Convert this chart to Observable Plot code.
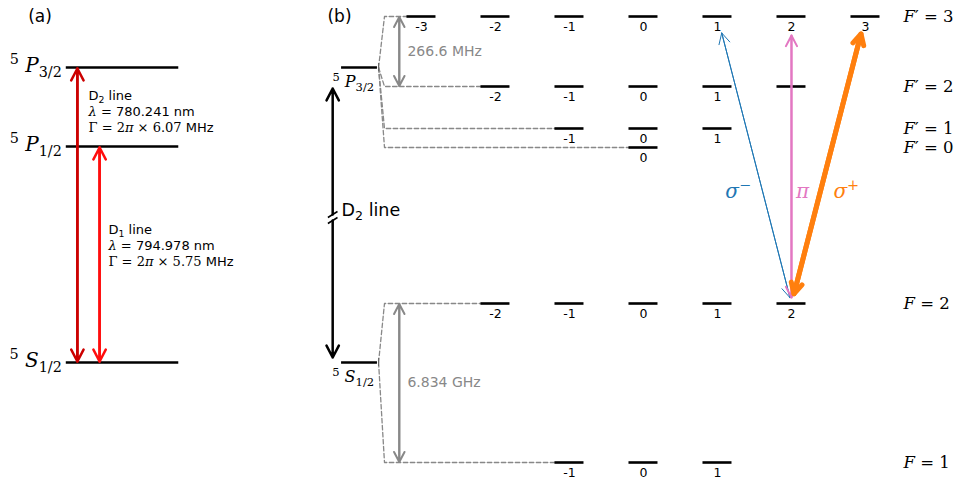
<!DOCTYPE html>
<html><head><meta charset="utf-8">
<script src="https://cdn.jsdelivr.net/npm/d3@7"></script>
<script src="https://cdn.jsdelivr.net/npm/@observablehq/plot@0.6"></script>
<style>body{margin:0;background:#fff} #chart svg{display:block}</style>
</head><body><div id="chart"></div>
<script>
// ---------------- data ----------------
// fine-structure levels (schematic energy units)
const fineNames = ["^{5}@{ P}_{3/2}", "^{5}@{ P}_{1/2}", "^{5}@{ S}_{1/2}"];
const fineEnergy = [41.4, 33.5, 11.9];
// hyperfine levels of the D2 line
const hfNames = ["@{F}′ = 3", "@{F}′ = 2", "@{F}′ = 1", "@{F}′ = 0", "@{F} = 2", "@{F} = 1"];
const hfF = [3, 2, 1, 0, 2, 1];
const hfParent = [0, 0, 0, 0, 2, 2];           // index into fine levels
const hfEnergy = [46.5, 39.5, 35.3, 33.4, 17.8, 1.9];
const unlabeledSublevels = [{level: 1, m: 2}];
// splittings
const splitLabels = ["266.6 MHz", "6.834 GHz"];
const splitPairs = [[0, 1], [4, 5]];
// D-line descriptions
const d2Text = ["D_{2} line", "@{λ} #{=} 780.241 nm", "#{Γ = 2}@{π}#{ × 6.07} MHz"];
const d1Text = ["D_{1} line", "@{λ} #{=} 794.978 nm", "#{Γ = 2}@{π}#{ × 5.75} MHz"];
// polarised transitions from F=2, m=2 to F'=3
const transNames = ["@{σ}^{−}", "@{π}", "@{σ}^{+}"];
const transMTo = [1, 2, 3];
const transColors = ["#1f77b4", "#e377c2", "#ff7f0e"];

// ---------------- layout ----------------
const SERIF = "DejaVu Serif";
const hw = 0.196;                // half width of a sublevel bar (x units)
const panelA = {x1: -7.80, x2: -6.28, labelX: -7.86, d2X: -7.65, d1X: -7.35, d2TextX: -7.50, d1TextX: -7.23, d2TextY: 38.6, d1TextY: 25.2, step: 1.6};
const panelB = {x1: -4.08, x2: -3.595, labelX: -3.64, capX: -3.58, fanX: -3.50, splitX: -3.30, splitTextX: -3.19, arrowX: -4.20, fLabelX: 3.514};
const transStyle = [
  {w: 1, head: 18, inLow: 6, inHigh: 17, lx: 1.28},
  {w: 2, head: 9, inLow: 6, inHigh: 19, lx: 2.15},
  {w: 5, head: 3.6, inLow: 10, inHigh: 18, lx: 2.74}
];

const sublevels = hfF.flatMap((F, i) => d3.range(-F, F + 1).map(m => ({level: i, m, E: hfEnergy[i]})));
const labeledSub = sublevels.filter(s => !unlabeledSublevels.some(u => u.level === s.level && u.m === s.m));
const fan = hfF.flatMap((F, i) => [
  {i, x: panelB.capX, E: fineEnergy[hfParent[i]]},
  {i, x: panelB.fanX, E: hfEnergy[i]},
  {i, x: -F - hw, E: hfEnergy[i]}
]);

function dbl(data, o) {
  const {insetStart = 0, insetEnd = 0, ...rest} = o;
  return [
    Plot.arrow(data, {...rest, insetStart, insetEnd}),
    Plot.arrow(data, {...rest, x1: o.x2, y1: o.y2, x2: o.x1, y2: o.y1, insetStart: insetEnd, insetEnd: insetStart})
  ];
}

const one = [0];
const marks = [
  // ---- panel (a) ----
  Plot.text(["(a)"], {x: -8.155, y: 46.5, text: d => d, fontSize: 17}),
  Plot.ruleY(fineNames, {y: (d, i) => fineEnergy[i], x1: panelA.x1, x2: panelA.x2, stroke: "black", strokeWidth: 2.6}),
  Plot.text(fineNames, {x: panelA.labelX, y: (d, i) => fineEnergy[i] + 0.15, text: d => d, textAnchor: "end", fontFamily: SERIF, fontSize: 20}),
  dbl(one, {x1: panelA.d2X, x2: panelA.d2X, y1: fineEnergy[2], y2: fineEnergy[0], stroke: "#cc0000", strokeWidth: 2.5, headLength: 8, headAngle: 55, insetStart: 1, insetEnd: 1}),
  dbl(one, {x1: panelA.d1X, x2: panelA.d1X, y1: fineEnergy[2], y2: fineEnergy[1], stroke: "#ff0d0d", strokeWidth: 2.5, headLength: 8, headAngle: 55, insetStart: 1, insetEnd: 1}),
  Plot.text(d2Text, {x: panelA.d2TextX, y: (d, i) => panelA.d2TextY - panelA.step * i, text: d => d, textAnchor: "start", fontSize: 13, lineHeight: 1}),
  Plot.text(d1Text, {x: panelA.d1TextX, y: (d, i) => panelA.d1TextY - panelA.step * i, text: d => d, textAnchor: "start", fontSize: 13, lineHeight: 1}),

  // ---- panel (b) ----
  Plot.text(["(b)"], {x: -4.108, y: 46.5, text: d => d, fontSize: 17}),
  Plot.line(fan, {x: "x", y: "E", z: "i", stroke: "#888", strokeWidth: 1.3, strokeDasharray: "4.5,2.5"}),
  Plot.ruleY([0, 2], {y: i => fineEnergy[i], x1: panelB.x1, x2: panelB.x2, stroke: "black", strokeWidth: 2.6}),
  Plot.ruleX([0, 2], {x: panelB.capX, y1: i => fineEnergy[i] - 0.4, y2: i => fineEnergy[i] + 0.4, stroke: "#666", strokeWidth: 1}),
  Plot.text([0, 2], {x: panelB.labelX, y: i => fineEnergy[i] - 1.45, text: i => fineNames[i], textAnchor: "end", fontFamily: SERIF, fontSize: 16}),
  // D2 arrow with break
  Plot.arrow(one, {x1: panelB.arrowX, x2: panelB.arrowX, y1: 26.7, y2: fineEnergy[0] - 2.1, stroke: "black", strokeWidth: 2.5, headLength: 8, headAngle: 55}),
  Plot.arrow(one, {x1: panelB.arrowX, x2: panelB.arrowX, y1: 26.1, y2: fineEnergy[2] + 0.5, stroke: "black", strokeWidth: 2.5, headLength: 8, headAngle: 55}),
  Plot.link([26.7, 26.1], {x1: panelB.arrowX - 0.065, x2: panelB.arrowX + 0.065, y1: d => d - 0.3, y2: d => d + 0.3, stroke: "black", strokeWidth: 1.5}),
  Plot.text(["D_{2} line"], {x: panelB.x1, y: 27.1, text: d => d, textAnchor: "start", fontSize: 17.5}),
  // hyperfine sublevels
  Plot.ruleY(sublevels, {y: "E", x1: d => d.m - hw, x2: d => d.m + hw, stroke: "black", strokeWidth: 2.6}),
  Plot.text(labeledSub, {x: "m", y: "E", dy: 10.5, text: d => String(d.m), fontSize: 12.5}),
  Plot.text(hfNames, {x: panelB.fLabelX, y: (d, i) => hfEnergy[i], text: d => d, textAnchor: "start", fontFamily: SERIF, fontSize: 16.5}),
  // splittings
  splitPairs.map(([a, b]) => dbl(one, {x1: panelB.splitX, x2: panelB.splitX, y1: hfEnergy[b], y2: hfEnergy[a], stroke: "#888", strokeWidth: 2, headLength: 8.5, headAngle: 55, insetStart: 0.5, insetEnd: 0.5})),
  Plot.text(splitLabels, {x: panelB.splitTextX, y: (d, i) => (hfEnergy[splitPairs[i][0]] + hfEnergy[splitPairs[i][1]]) / 2, text: d => d, textAnchor: "start", fill: "#888", fontSize: 14}),
  // transitions
  transNames.map((name, k) => [
    dbl(one, {x1: 2, y1: hfEnergy[4], x2: transMTo[k], y2: hfEnergy[0], stroke: transColors[k], strokeWidth: transStyle[k].w, headLength: transStyle[k].head, headAngle: 55, insetStart: transStyle[k].inLow, insetEnd: transStyle[k].inHigh}),
    Plot.text([name], {x: transStyle[k].lx, y: 29.0, text: d => d, fill: transColors[k], fontFamily: SERIF, fontSize: 20})
  ])
];

const chart = Plot.plot({
  width: 960, height: 481, margin: 0,
  x: {domain: [-8.689, 4.284], axis: null},
  y: {domain: [0, 48.1], axis: null},
  style: {fontFamily: "DejaVu Sans", background: "white", color: "black"},
  marks
});
document.getElementById("chart").appendChild(chart);

// rich text: ^{..} superscript, _{..} subscript, @{..} italic serif, #{..} upright serif
function richify(svg) {
  const NS = "http://www.w3.org/2000/svg";
  svg.querySelectorAll("text").forEach(el => {
    if (el.querySelector("tspan")) return;
    const s = el.textContent;
    if (!/[\^_@#]\{/.test(s)) return;
    const fs = parseFloat(getComputedStyle(el).fontSize) || 13;
    el.textContent = "";
    const parts = s.split(/([\^_@#]\{[^}]*\})/).filter(p => p !== "");
    let shift = 0;
    for (const p of parts) {
      const t = document.createElementNS(NS, "tspan");
      let txt = p, target = 0;
      const m = /^([\^_@#])\{([^}]*)\}$/.exec(p);
      if (m) {
        txt = m[2];
        if (m[1] === "^") { target = -0.4 * fs; t.setAttribute("font-size", 0.72 * fs); }
        if (m[1] === "_") { target = 0.24 * fs; t.setAttribute("font-size", 0.72 * fs); }
        if (m[1] === "@") { t.setAttribute("font-style", "italic"); t.setAttribute("font-family", SERIF); }
        if (m[1] === "#") t.setAttribute("font-family", SERIF);
      }
      if (target !== shift) { t.setAttribute("dy", (target - shift).toFixed(2)); shift = target; }
      t.textContent = txt;
      t.setAttribute("style", "white-space:pre");
      el.appendChild(t);
    }
  });
}
richify(chart);
</script>
</body></html>
